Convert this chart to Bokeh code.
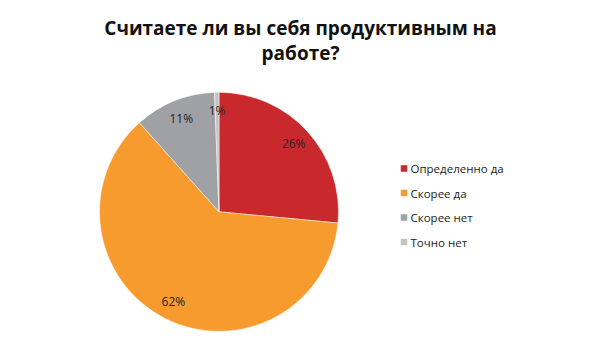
import numpy as np
from bokeh.plotting import figure
from bokeh.models import Range1d, ColumnDataSource
from bokeh.core.properties import value
from bokeh.embed import file_html
from bokeh.resources import INLINE

categories = ["Определенно да", "Скорее да", "Скорее нет", "Точно нет"]
shares = [26.5, 61.9, 11.0, 0.6]          # slice sizes
labels = ["26%", "62%", "11%", "1%"]      # labels as printed
colors = ["#C9282D", "#F79B2E", "#A0A1A4", "#C4C4C4"]
title_lines = ["Считаете ли вы себя продуктивным на", "работе?"]

W, H = 583, 344
p = figure(width=W, height=H, output_backend="svg", toolbar_location=None,
           x_range=Range1d(0, W), y_range=Range1d(360 - H, 360),
           min_border=0)
p.axis.visible = False
p.grid.visible = False
p.outline_line_color = None
p.background_fill_color = "white"

cx, cy, R = 218.5, 360 - 211.3, 119.5
vals = np.array(shares, dtype=float)
frac = vals / vals.sum()
cum = np.concatenate([[0], np.cumsum(frac)])
start = np.pi / 2 - 2 * np.pi * cum[:-1]
end = np.pi / 2 - 2 * np.pi * cum[1:]
src = ColumnDataSource(dict(start=start, end=end, color=colors))
p.wedge(x=cx, y=cy, radius=R, start_angle="start", end_angle="end",
        direction="clock", fill_color="color", line_color="white",
        line_width=0.5, source=src)

mid = (start + end) / 2
lr = 101
lx = cx + lr * np.cos(mid)
ly = cy + lr * np.sin(mid)
p.text(x=lx, y=ly, text=labels, text_align="center",
       text_baseline="middle", text_font=value("Open Sans"),
       text_font_size="12px", text_color="#222222")

# title
p.text(x=[300, 300], y=[360 - 27, 360 - 52], text=title_lines,
       text_align="center", text_baseline="middle",
       text_font=value("Open Sans"), text_font_style="bold",
       text_font_size="19px", text_color="#111111")

# legend
ys = 360 - np.array([168, 192.5, 217, 241.5])
p.rect(x=[403.5] * 4, y=ys, width=6.5, height=6.5, fill_color=colors,
       line_color=None)
p.text(x=[410] * 4, y=ys, text=categories, text_align="left",
       text_baseline="middle", text_font=value("Open Sans"),
       text_font_size="11.5px", text_color="#222222")

open("out.html", "w").write(file_html(p, INLINE))
